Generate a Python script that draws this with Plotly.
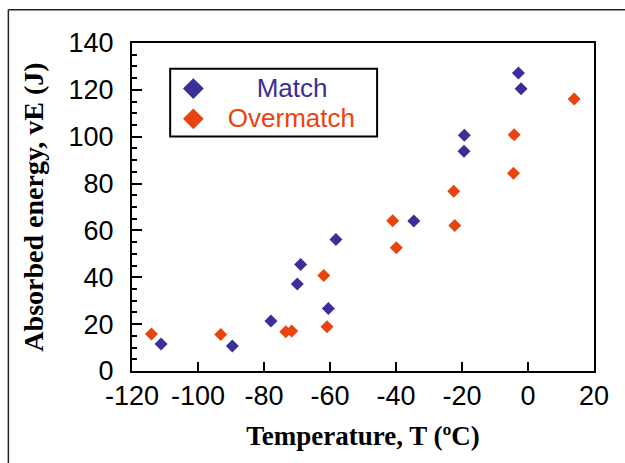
import plotly.graph_objects as go

# Data
match_T = [-111.2, -89.6, -77.9, -69.9, -68.9, -60.5, -58.2, -34.6, -19.4, -19.3, -2.9, -2.1]
match_E = [11.5, 10.7, 21.3, 37.1, 45.5, 26.7, 56.1, 64.0, 93.8, 100.6, 127.2, 120.5]

over_T = [-114.1, -93.1, -73.4, -71.6, -61.9, -60.9, -41.0, -39.9, -22.5, -22.2, -4.2, -4.4, 14.0]
over_E = [15.8, 15.6, 16.8, 17.1, 40.8, 18.9, 64.1, 52.6, 76.7, 62.1, 100.8, 84.4, 116.1]

series_names = ["Match", "Overmatch"]
x_ticks = [-120, -100, -80, -60, -40, -20, 0, 20]
y_ticks = [0, 20, 40, 60, 80, 100, 120, 140]

BLUE = "#3a2e98"
ORANGE = "#e8440f"
NB = "\u00a0"

fig = go.Figure()
fig.add_trace(go.Scatter(x=match_T, y=match_E, mode="markers", showlegend=False,
                         marker=dict(symbol="diamond", size=10, color=BLUE)))
fig.add_trace(go.Scatter(x=over_T, y=over_E, mode="markers", showlegend=False,
                         marker=dict(symbol="diamond", size=10, color=ORANGE)))
# legend entries (larger symbols, as in the reference)
fig.add_trace(go.Scatter(x=[None], y=[None], mode="markers",
                         name=f"<span style='color:{BLUE};font-size:26px'>{NB*6}{series_names[0]}{NB*6}</span>",
                         marker=dict(symbol="diamond", size=16, color=BLUE)))
fig.add_trace(go.Scatter(x=[None], y=[None], mode="markers",
                         name=f"<span style='color:{ORANGE};font-size:26px'>{NB*2}{series_names[1]}{NB*2}</span>",
                         marker=dict(symbol="diamond", size=16, color=ORANGE)))

tick_font = dict(family="Arial, Liberation Sans, sans-serif", size=27, color="black")
xtitle_font = dict(family="Times New Roman, Liberation Serif, serif", size=27, color="black", weight="bold")
ytitle_font = dict(family="Times New Roman, Liberation Serif, serif", size=28, color="black", weight="bold")

fig.update_layout(
    width=625, height=463,
    margin=dict(l=132, r=31, t=43, b=92),
    paper_bgcolor="white", plot_bgcolor="white",
    legend=dict(x=0.0895, y=0.9225, xanchor="left", yanchor="top",
                bgcolor="rgba(0,0,0,0)", borderwidth=0,
                font=dict(family="Arial, Liberation Sans, sans-serif", size=21),
                itemsizing="trace", tracegroupgap=0),
    shapes=[
        # outer frame of the picture
        dict(type="line", xref="paper", yref="paper", x0=-0.2676, x1=-0.2676, y0=-0.4, y1=1.1017,
             line=dict(color="#222", width=1.5)),
        dict(type="line", xref="paper", yref="paper", x0=-0.2676, x1=1.2, y0=1.1017, y1=1.1017,
             line=dict(color="#222", width=1.5)),
        # legend frame
        dict(type="rect", xref="paper", yref="paper", x0=0.0826, x1=0.5305, y0=0.7153, y1=0.9215,
             line=dict(color="black", width=2), fillcolor="rgba(0,0,0,0)", layer="above"),
    ],
)

fig.update_xaxes(range=[-120, 20], tickvals=x_ticks, ticktext=[str(v) for v in x_ticks],
                 ticks="inside", ticklen=9, tickwidth=1.5, tickcolor="black",
                 showline=True, linecolor="black", linewidth=2, mirror=True,
                 showgrid=False, zeroline=False, tickfont=tick_font,
                 ticklabelstandoff=0,
                 title=dict(text="Temperature, T (ºC)", font=xtitle_font, standoff=16))
fig.update_yaxes(range=[0, 140], tickvals=y_ticks, ticktext=[str(v) for v in y_ticks],
                 ticks="inside", ticklen=10, tickwidth=1.5, tickcolor="black",
                 minor=dict(dtick=5, ticks="inside", ticklen=5, tickwidth=1.5, tickcolor="black", showgrid=False),
                 showline=True, linecolor="black", linewidth=2, mirror=True,
                 showgrid=False, zeroline=False, tickfont=tick_font,
                 ticklabelstandoff=11,
                 title=dict(text="Absorbed energy, vE (J)", font=ytitle_font, standoff=17))

fig.write_html("out.html", config={"displayModeBar": False},
               post_script="document.body.style.margin='0';document.body.style.overflow='hidden';")
